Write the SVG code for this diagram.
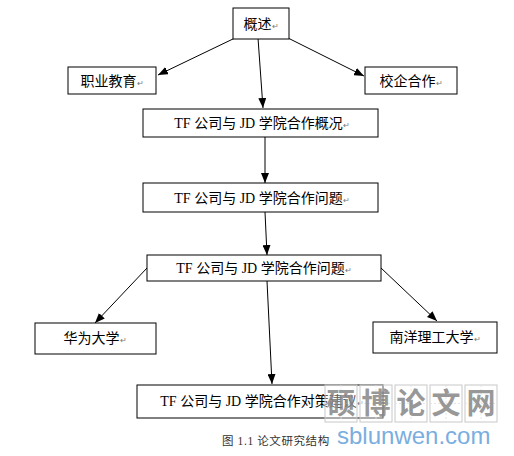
<svg xmlns="http://www.w3.org/2000/svg" width="514" height="456" viewBox="0 0 514 456">
<style>
.box{fill:#fff;stroke:#000;stroke-width:1}
.t{font-family:"Liberation Serif","Noto Sans CJK SC",serif;font-size:14px;fill:#000;text-anchor:middle}
.pm{font-size:8px;fill:#777}
.ln{stroke:#000;stroke-width:1;fill:none;marker-end:url(#ah)}
.cap{font-family:"Liberation Serif","Noto Sans CJK SC",serif;font-size:11.5px;fill:#333;letter-spacing:0.6px}
.wmb{fill:#fff;fill-opacity:0.35;stroke:#c8c8c8;stroke-width:1}
.wmg{stroke:#e0e0e0;stroke-width:0.8;stroke-dasharray:2 2}
.wmt{font-family:"Noto Sans CJK SC",sans-serif;font-size:29px;font-weight:bold;fill:#858585;fill-opacity:0.85;text-anchor:middle}
</style>
<defs>
<marker id="ah" markerWidth="10" markerHeight="8" refX="10" refY="4" orient="auto" markerUnits="userSpaceOnUse">
<path d="M0,0 L10,4 L0,8 Z" fill="#000"/>
</marker>
</defs>
<rect width="514" height="456" fill="#fff"/>
<g id="connectors">
<line class="ln" x1="235" y1="38" x2="158" y2="75"/>
<line class="ln" x1="288" y1="38" x2="364" y2="76"/>
<line class="ln" x1="258" y1="38" x2="263" y2="108"/>
<line class="ln" x1="265" y1="137" x2="265" y2="183"/>
<line class="ln" x1="265" y1="212" x2="267" y2="255"/>
<line class="ln" x1="147" y1="268" x2="95" y2="323"/>
<line class="ln" x1="381" y1="268" x2="437" y2="321"/>
<line class="ln" x1="267" y1="281" x2="272" y2="384"/>
</g>
<g id="n1"><rect class="box" x="233" y="8" width="56" height="31"/><text class="t" x="261" y="29">概述<tspan class="pm">↵</tspan></text></g>
<g id="n2"><rect class="box" x="68" y="67" width="88" height="27"/><text class="t" x="112" y="86">职业教育<tspan class="pm">↵</tspan></text></g>
<g id="n3"><rect class="box" x="365" y="67" width="92" height="27"/><text class="t" x="411" y="86">校企合作<tspan class="pm">↵</tspan></text></g>
<g id="n4"><rect class="box" x="143" y="109" width="235" height="28"/><text class="t" x="262" y="128">TF 公司与 JD 学院合作概况<tspan class="pm">↵</tspan></text></g>
<g id="n5"><rect class="box" x="143" y="183" width="235" height="29"/><text class="t" x="262" y="203">TF 公司与 JD 学院合作问题<tspan class="pm">↵</tspan></text></g>
<g id="n6"><rect class="box" x="147" y="255" width="234" height="26"/><text class="t" x="264" y="273">TF 公司与 JD 学院合作问题<tspan class="pm">↵</tspan></text></g>
<g id="n7"><rect class="box" x="35" y="323" width="121" height="31"/><text class="t" x="95" y="343">华为大学<tspan class="pm">↵</tspan></text></g>
<g id="n8"><rect class="box" x="373" y="322" width="124" height="31"/><text class="t" x="435" y="342">南洋理工大学<tspan class="pm">↵</tspan></text></g>
<g id="n9"><rect class="box" x="137" y="385" width="246" height="33"/><text class="t" x="262" y="406">TF 公司与 JD 学院合作对策建议<tspan class="pm">↵</tspan></text></g>
<text class="cap" x="222" y="445">图 1.1  论文研究结构</text>
<g id="watermark">
<rect class="wmb" x="325" y="385" width="32" height="37"/>
<rect class="wmb" x="360" y="385" width="32" height="37"/>
<rect class="wmb" x="395" y="385" width="32" height="37"/>
<rect class="wmb" x="430" y="385" width="32" height="37"/>
<rect class="wmb" x="465" y="385" width="32" height="37"/>
<path class="wmg" d="M341,385V422M376,385V422M411,385V422M446,385V422M481,385V422M325,403.5H357M360,403.5H392M395,403.5H427M430,403.5H462M465,403.5H497"/>
<text class="wmt" x="341" y="414">硕</text>
<text class="wmt" x="376" y="414">博</text>
<text class="wmt" x="411" y="414">论</text>
<text class="wmt" x="446" y="414">文</text>
<text class="wmt" x="481" y="414">网</text>
<text x="337" y="444" font-family="Liberation Sans,Arial,sans-serif" font-size="24" fill="#7aaee0">sblunwen.com</text>
</g>
</svg>
